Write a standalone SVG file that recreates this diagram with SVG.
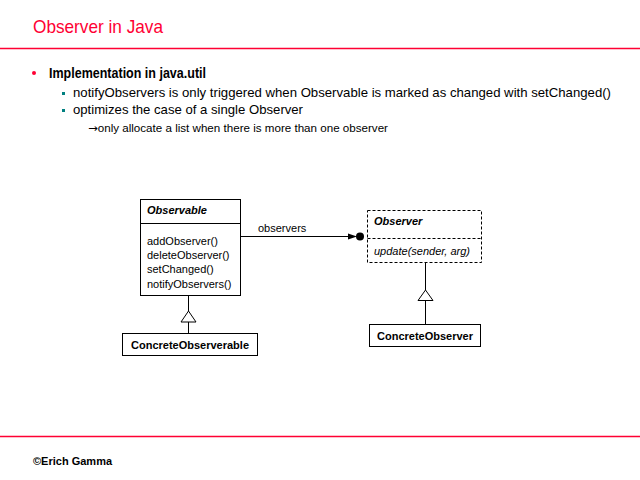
<svg xmlns="http://www.w3.org/2000/svg" width="640" height="480" viewBox="0 0 640 480">
<style>
text{font-family:"Liberation Sans",Arial,sans-serif;fill:#000}
.title{font-size:19px;fill:#FF0033}
.h1{font-size:15px;font-weight:bold}
.h2{font-size:13px}
.h3{font-size:11px}
.cls{font-size:11px}
.b{font-weight:bold}
.i{font-style:italic}
.box{fill:#fff;stroke:#000;stroke-width:1}
.dash{fill:#fff;stroke:#000;stroke-width:1;stroke-dasharray:3,2}
.ln{stroke:#000;stroke-width:1;fill:none}
.tri{fill:#fff;stroke:#000;stroke-width:1}
</style>
<rect width="640" height="480" fill="#fff"/>
<text class="title" x="33" y="33" textLength="130" lengthAdjust="spacingAndGlyphs">Observer in Java</text>
<line x1="0" y1="48.5" x2="640" y2="48.5" stroke="#FF0033" stroke-width="1.5"/>
<circle cx="34" cy="73" r="2" fill="#FF0033"/>
<text class="h1" x="49" y="78" textLength="157" lengthAdjust="spacingAndGlyphs">Implementation in java.util</text>
<rect x="62" y="92" width="3" height="3" fill="#008080"/>
<text class="h2" x="73" y="97" textLength="538" lengthAdjust="spacingAndGlyphs">notifyObservers is only triggered when Observable is marked as changed with setChanged()</text>
<rect x="62" y="109" width="3" height="3" fill="#008080"/>
<text class="h2" x="73" y="114" textLength="230" lengthAdjust="spacingAndGlyphs">optimizes the case of a single Observer</text>
<text class="h3" x="88" y="132" textLength="300" lengthAdjust="spacingAndGlyphs"><tspan font-family="'DejaVu Sans',sans-serif">→</tspan>only allocate a list when there is more than one observer</text>

<g id="connectors">
<line class="ln" x1="241" y1="236.5" x2="352" y2="236.5"/>
<path d="M348,233.5 L357,236.5 L348,239.5 Z" fill="#000"/>
<circle cx="360" cy="236.5" r="4" fill="#000"/>
<text class="cls" x="258" y="232">observers</text>
<line class="ln" x1="188.5" y1="296" x2="188.5" y2="311"/>
<path class="tri" d="M188.5,311 L196,322 L181,322 Z"/>
<line class="ln" x1="188.5" y1="322" x2="188.5" y2="333"/>
<line class="ln" x1="425.5" y1="262" x2="425.5" y2="290"/>
<path class="tri" d="M425.5,290 L433,300.5 L418,300.5 Z"/>
<line class="ln" x1="425.5" y1="300.5" x2="425.5" y2="324"/>
</g>

<g id="observable">
<rect class="box" x="140.5" y="199.5" width="100" height="96"/>
<line class="ln" x1="140.5" y1="223.5" x2="240.5" y2="223.5"/>
<text class="cls b i" x="147" y="214">Observable</text>
<text class="cls" x="147" y="245">addObserver()</text>
<text class="cls" x="147" y="259">deleteObserver()</text>
<text class="cls" x="147" y="273">setChanged()</text>
<text class="cls" x="147" y="288">notifyObservers()</text>
</g>

<g id="concreteobserverable">
<rect class="box" x="122.5" y="333.5" width="135" height="22"/>
<text class="cls b" x="190" y="349" text-anchor="middle">ConcreteObserverable</text>
</g>

<g id="observer">
<rect class="dash" x="367.5" y="210.5" width="114" height="52"/>
<line class="ln" x1="367.5" y1="238.5" x2="481.5" y2="238.5" stroke-dasharray="3,2"/>
<text class="cls b i" x="374" y="225">Observer</text>
<text class="cls i" x="374" y="255">update(sender, arg)</text>
</g>

<g id="concreteobserver">
<rect class="box" x="369.5" y="324.5" width="111" height="22"/>
<text class="cls b" x="425" y="340" text-anchor="middle">ConcreteObserver</text>
</g>

<line x1="0" y1="436.5" x2="640" y2="436.5" stroke="#FF0033" stroke-width="1.5"/>
<text class="cls b" x="33" y="465">©Erich Gamma</text>
</svg>
